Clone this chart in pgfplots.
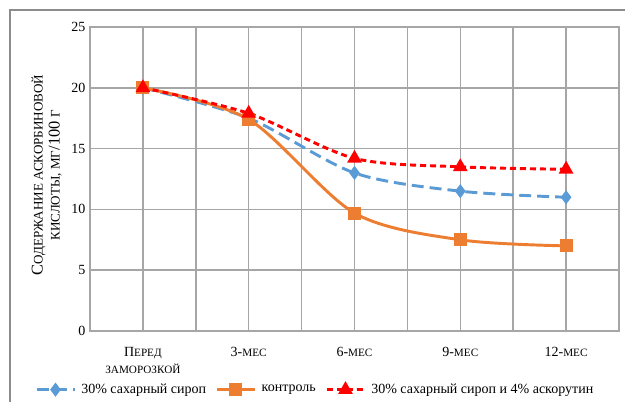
\documentclass[border=0pt]{standalone}
\usepackage{pgfplots}
\pgfplotsset{compat=1.18}
\usepackage{fontspec}
\setmainfont{Liberation Serif}
\definecolor{cblue}{HTML}{5B9BD5}
\definecolor{corange}{HTML}{ED7D31}
\definecolor{gridc}{HTML}{A6A6A6}
\definecolor{framec}{HTML}{8C8C8C}
\newcommand\scs[1]{{\fontsize{8.4pt}{9pt}\selectfont #1}}
\newcommand\scl[1]{{\fontsize{9.8pt}{10pt}\selectfont #1}}
\begin{document}
\begin{tikzpicture}
\useasboundingbox (-67.5pt,-52.5pt) rectangle (401.25pt,248.25pt);
\draw[framec, line width=0.8pt] (-60pt,-70pt) -- (-60pt,240.75pt) -- (420pt,240.75pt);
\begin{axis}[
  scale only axis,
  width=396.75pt, height=228pt,
  xmin=-0.5, xmax=4.5, ymin=0, ymax=25,
  xtick={0,1,2,3,4},
  minor xtick={-0.5,0.5,1.5,2.5,3.5,4.5},
  ytick={0,5,10,15,20,25},
  xticklabels={П\scs{ЕРЕД},3-\scs{МЕС},6-\scs{МЕС},9-\scs{МЕС},12-\scs{МЕС}},
  xticklabel style={font=\fontsize{10.5pt}{12pt}\selectfont, anchor=base, yshift=-19pt, inner sep=0pt},
  extra x ticks={0},
  extra x tick labels={\scs{ЗАМОРОЗКОЙ}},
  extra x tick style={grid=none, xticklabel style={yshift=-12.8pt}},
  yticklabel style={font=\fontsize{10.5pt}{12pt}\selectfont},
  /pgf/number format/assume math mode=true,
  major tick length=0pt, minor tick length=0pt,
  grid=both,
  major grid style={gridc, line width=1.1pt},
  minor grid style={gridc, line width=1.1pt},
  axis line style={gridc, line width=1.1pt},
  ylabel={С\scl{ОДЕРЖАНИЕ АСКОРБИНОВОЙ}\\\scl{КИСЛОТЫ, МГ}/100 \scl{Г}},
  ylabel style={at={(axis description cs:-0.082,0.513)}, anchor=center, align=center, font=\fontsize{12.3pt}{12.75pt}\selectfont},
  legend columns=3,
  legend style={at={(axis description cs:0.425,-0.193)}, anchor=center, draw=none, fill=none,
    font=\fontsize{10.5pt}{12pt}\selectfont, column sep=3pt, inner sep=0pt,
    nodes={inner sep=1pt},
    /tikz/every even column/.append style={column sep=6pt}},
  legend image code/.code={
    \draw[mark repeat=2,mark phase=2,#1] plot coordinates {(0cm,0cm) (0.5cm,0cm) (1cm,0cm)};
  },
]
\addplot[cblue, line width=2.2pt, dash pattern=on 9pt off 4.5pt, smooth, tension=0.5,
  mark=diamond*, mark size=3.5pt, mark options={solid, fill=cblue}]
  coordinates {(0,20) (1,17.5) (2,13) (3,11.5) (4,11)};
\addlegendentry{30\% сахарный сироп}
\addplot[corange, line width=2.2pt, smooth, tension=0.5,
  mark=square*, mark size=3.8pt, mark options={solid, fill=corange}]
  coordinates {(0,20) (1,17.4) (2,9.7) (3,7.5) (4,7)};
\addlegendentry{контроль}
\addplot[red, line width=2.2pt, dash pattern=on 4.5pt off 3pt, smooth, tension=0.5,
  mark=triangle*, mark size=4.2pt, mark options={solid, fill=red}]
  coordinates {(0,20) (1,17.9) (2,14.2) (3,13.5) (4,13.3)};
\addlegendentry{30\% сахарный сироп и 4\% аскорутин}
\end{axis}
\end{tikzpicture}
\end{document}
